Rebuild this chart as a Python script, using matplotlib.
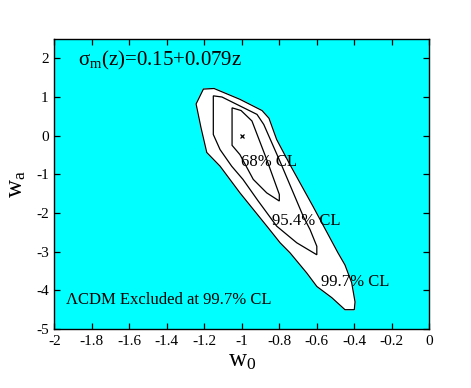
import matplotlib
matplotlib.use("Agg")
import matplotlib.pyplot as plt

plt.rcParams['font.family'] = ['Liberation Serif', 'DejaVu Serif']
plt.rcParams['mathtext.fontset'] = 'custom'
plt.rcParams['mathtext.rm'] = 'Liberation Serif'
plt.rcParams['mathtext.it'] = 'Liberation Serif'
plt.rcParams['axes.unicode_minus'] = False

# 99.7% CL contour
w0_997 = [-1.244, -1.205, -1.148, -1.01, -0.892, -0.855, -0.814, -0.743, -0.62, -0.487,
          -0.45, -0.414, -0.396, -0.40, -0.45, -0.52, -0.60, -0.654, -0.743, -0.796,
          -0.86, -1.01, -1.116, -1.187, -1.218]
wa_997 = [0.82, 1.205, 1.22, 0.94, 0.65, 0.45, -0.10, -0.75, -1.83, -3.03,
          -3.34, -3.80, -4.30, -4.50, -4.50, -4.19, -3.90, -3.55, -3.03, -2.77,
          -2.38, -1.48, -0.79, -0.435, 0.21]
# 95.4% CL contour
w0_954 = [-1.152, -1.106, -0.919, -0.883, -0.796, -0.672, -0.636, -0.60, -0.60,
          -0.707, -0.814, -0.914, -0.994, -1.054, -1.116, -1.152]
wa_954 = [1.03, 1.0, 0.55, 0.29, -0.67, -2.09, -2.43, -2.86, -3.08,
          -2.77, -2.34, -1.68, -1.13, -0.79, -0.36, 0.03]
# 68% CL contour
w0_68 = [-1.052, -1.004, -0.946, -0.867, -0.80, -0.80, -0.867, -0.939, -1.01, -1.052]
wa_68 = [0.72, 0.65, 0.38, -0.62, -1.52, -1.69, -1.48, -1.13, -0.49, -0.25]

fid_w0, fid_wa = -1.0, 0.0

x_ticks = [-2, -1.8, -1.6, -1.4, -1.2, -1, -0.8, -0.6, -0.4, -0.2, 0]
x_ticklabels = ['-2', '-1.8', '-1.6', '-1.4', '-1.2', '-1', '-0.8', '-0.6', '-0.4', '-0.2', '0']
y_ticks = [-5, -4, -3, -2, -1, 0, 1, 2]
y_ticklabels = ['-5', '-4', '-3', '-2', '-1', '0', '1', '2']

fig = plt.figure(figsize=(4.71, 3.88), dpi=100)
ax = fig.add_axes([0.1153, 0.152, 0.7962, 0.7475])
ax.set_facecolor('#00ffff')

ax.fill(w0_997, wa_997, color='white', zorder=1)
for xs, ys in [(w0_997, wa_997), (w0_954, wa_954), (w0_68, wa_68)]:
    ax.fill(xs, ys, facecolor='none', edgecolor='black', linewidth=0.9, zorder=2)

ax.plot([fid_w0], [fid_wa], marker='x', color='black', markersize=3.5, mew=0.9, zorder=3)

ax.text(-1.006, -0.69, '68% CL', fontsize=12, va='center', ha='left', zorder=4)
ax.text(-0.84, -2.2, '95.4% CL', fontsize=12, va='center', ha='left', zorder=4)
ax.text(-0.578, -3.78, '99.7% CL', fontsize=12, va='center', ha='left', zorder=4)
ax.text(-1.94, -4.24, '\u039bCDM Excluded at 99.7% CL', fontsize=12, va='center', ha='left', zorder=4)
ax.text(-1.873, 1.95, r'$\sigma_{\rm m}$(z)=0.15+0.079z', fontsize=15, va='center', ha='left', zorder=4)

ax.set_xlim(-2, 0)
ax.set_ylim(-5, 2.5)
ax.set_xticks(x_ticks)
ax.set_xticklabels(x_ticklabels)
ax.set_yticks(y_ticks)
ax.set_yticklabels(y_ticklabels)
ax.tick_params(direction='in', top=True, right=True, length=4.3, width=0.9,
               labelsize=11, pad=4)
for s in ax.spines.values():
    s.set_linewidth(1.0)

ax.set_xlabel(r'w$_0$', fontsize=18, labelpad=2)
ax.set_ylabel(r'w$_a$', fontsize=18, labelpad=6)

fig.savefig('out.png', dpi=100)
